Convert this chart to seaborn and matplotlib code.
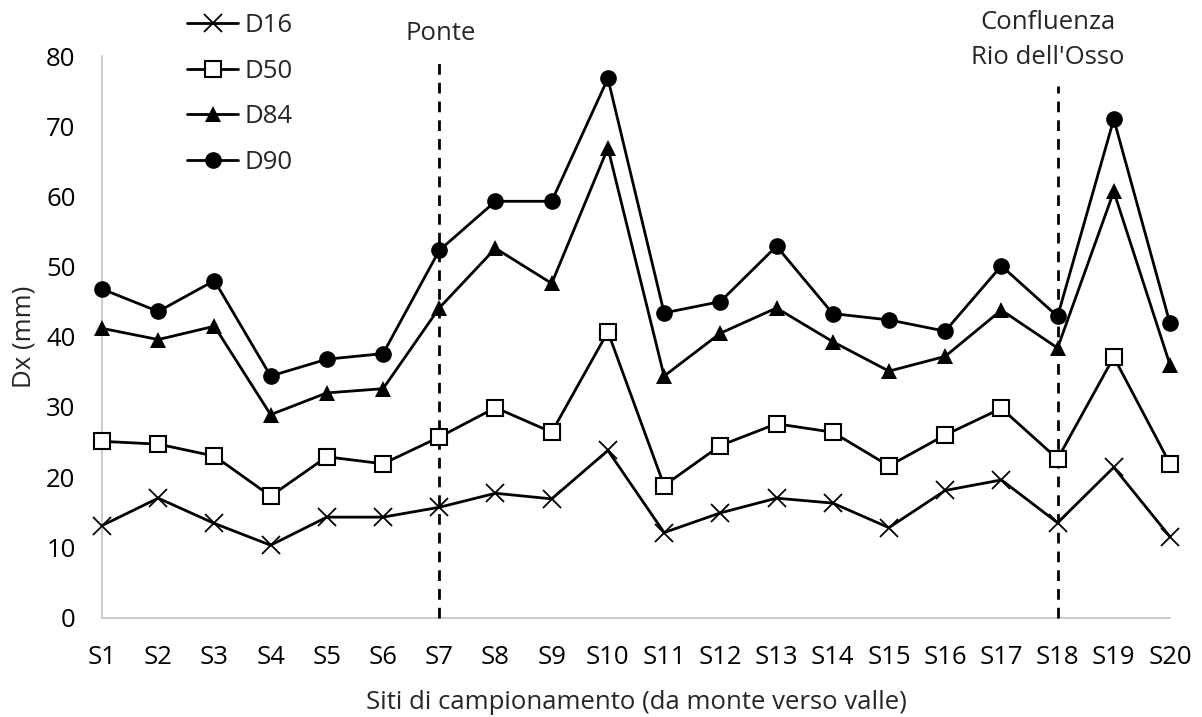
import matplotlib
matplotlib.use("Agg")
import matplotlib.pyplot as plt
import seaborn as sns
import pandas as pd

sites = [f"S{i}" for i in range(1, 21)]
d16 = [13.1, 17.0, 13.4, 10.3, 14.3, 14.3, 15.7, 17.7, 16.9, 23.8,
       12.1, 14.9, 17.0, 16.3, 12.8, 18.1, 19.6, 13.5, 21.4, 11.5]
d50 = [25.1, 24.7, 23.0, 17.3, 22.9, 21.9, 25.7, 29.9, 26.4, 40.7,
       18.8, 24.5, 27.6, 26.4, 21.6, 26.0, 29.8, 22.6, 37.1, 21.9]
d84 = [41.2, 39.6, 41.5, 28.9, 32.0, 32.6, 44.1, 52.6, 47.6, 66.9,
       34.4, 40.5, 44.1, 39.3, 35.1, 37.2, 43.8, 38.4, 60.7, 36.0]
d90 = [46.8, 43.6, 48.0, 34.4, 36.8, 37.6, 52.3, 59.3, 59.3, 76.8,
       43.4, 45.0, 52.9, 43.3, 42.4, 40.8, 50.1, 42.9, 71.0, 41.9]
series_names = ["D16", "D50", "D84", "D90"]
events = [("S7", "Ponte"), ("S18", "Confluenza\nRio dell'Osso")]
yticks = [0, 10, 20, 30, 40, 50, 60, 70, 80]

sns.set_theme(style="white")
plt.rcParams["font.family"] = ["Open Sans", "DejaVu Sans"]
FS = 18.5

fig = plt.figure(figsize=(12.02, 7.17), dpi=100)
ax = fig.add_axes([102/1202, 1-617.5/717, (1170-102)/1202, (617.5-56)/717])

styles = {
    "D16": dict(marker="x", markersize=12.5, markeredgewidth=1.3, markerfacecolor="black", markeredgecolor="black"),
    "D50": dict(marker="s", markersize=11.5, markeredgewidth=1.5, markerfacecolor="white", markeredgecolor="black"),
    "D84": dict(marker="^", markersize=11.5, markeredgewidth=0, markerfacecolor="black", markeredgecolor="black"),
    "D90": dict(marker="o", markersize=12, markeredgewidth=0, markerfacecolor="black", markeredgecolor="black"),
}
data = {"D16": d16, "D50": d50, "D84": d84, "D90": d90}
for name in series_names:
    df = pd.DataFrame({"site": sites, "val": data[name]})
    sns.lineplot(data=df, x="site", y="val", sort=False, ax=ax, color="black",
                 linewidth=2.0, label=name, clip_on=False, zorder=3, **styles[name])

pos = {s: i for i, s in enumerate(sites)}
tops = {"S7": 0.993, "S18": 0.947}
for s, txt in events:
    ax.axvline(pos[s], ymin=0, ymax=tops[s], color="black", linewidth=2.0,
               linestyle=(0, (3.85, 2.9)), zorder=2, clip_on=False)

ax.set_xlim(0, len(sites) - 1)
ax.set_ylim(0, 80)
ax.set_yticks(yticks)
ax.set_xticks(range(len(sites)))
ax.set_xticklabels(sites)
for sp in ["top", "right"]:
    ax.spines[sp].set_visible(False)
for sp in ["left", "bottom"]:
    ax.spines[sp].set_color("#BFBFBF")
    ax.spines[sp].set_linewidth(1.1)
    ax.spines[sp].set_zorder(1)
ax.tick_params(axis="both", which="both", direction="out", length=6, width=1.1,
               color="#BFBFBF", labelsize=FS, labelcolor="black")
ax.tick_params(axis="x", pad=14)
ax.tick_params(axis="y", pad=13)
ax.set_xlabel("Siti di campionamento (da monte verso valle)", fontsize=FS, labelpad=14)
ax.set_ylabel("Dx (mm)", fontsize=FS, labelpad=7)

fig.text(441/1202, 1-33.5/717, "Ponte", ha="center", va="center", fontsize=FS)
fig.text(1048/1202, 1-40/717, "Confluenza\nRio dell'Osso", ha="center", va="center",
         fontsize=FS, linespacing=1.55)

ax.legend(loc="upper left", bbox_to_anchor=(187/1202, 1-13/717), bbox_transform=fig.transFigure,
          frameon=False, fontsize=FS, handlelength=2.0, handletextpad=0.25,
          labelspacing=0.8, borderpad=0, borderaxespad=0)

fig.savefig("out.png", dpi=100)
